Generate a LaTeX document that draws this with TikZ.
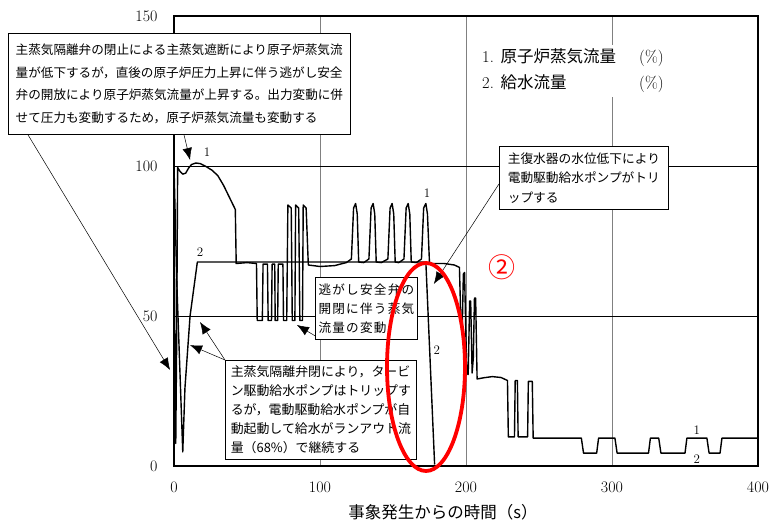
\documentclass[tikz,border=0pt]{standalone}
\usepackage{fontspec}
\newfontfamily\jp{Noto Sans CJK JP}
\newfontfamily\jpwide[LetterSpace=10]{Noto Sans CJK JP}
\usetikzlibrary{shapes,arrows.meta,positioning,calc}

\begin{document}
\begin{tikzpicture}[x=1pt, y=1pt, >={Latex[length=12pt,width=9.5pt]},
    curve/.style={line width=1.4pt, line join=round},
    note/.style={draw, fill=white, line width=0.8pt, align=left, inner sep=0pt, anchor=north west},
    pointer/.style={->, line width=0.5pt},
    tick/.style={font=\fontsize{16}{16}\selectfont},
    cnum/.style={font=\fontsize{13}{13}\selectfont, inner sep=1pt}]

    \useasboundingbox (0,0) rectangle (772,523);

    \begin{scope}[shift={(174,57)}, x=1.46pt, y=3pt]

        % Grade
        \draw[gray, line width=0.6pt] (100,0) -- (100,150) (200,0) -- (200,150) (300,0) -- (300,150);
        \draw[line width=0.8pt] (0,50) -- (400,50) (0,100) -- (400,100);
        \draw[line width=1.2pt] (0,0) rectangle (400,150);

        % Eixos
        \node[tick, anchor=east] (y150) at (-8.9,150) {150};
        \node[tick, anchor=east] (y100) at (-8.9,100) {100};
        \node[tick, anchor=east] (y50) at (-8.9,50) {50};
        \node[tick, anchor=east] (y0) at (-8.9,0) {0};
        \node[tick] (x0) at (0,-7) {0};
        \node[tick] (x100) at (100,-7) {100};
        \node[tick] (x200) at (200,-7) {200};
        \node[tick] (x300) at (300,-7) {300};
        \node[tick] (x400) at (400,-7) {400};

        % Curva 1
        \draw[curve] (0,100) -- (0.7,30) -- (1.2,7.5) -- (1.8,40) -- (2.5,99.5)
            -- (4,98.3) -- (6,97.3) -- (8,97.6) -- (10,99.3) -- (12,100.5) -- (15,101) -- (18,100.8)
            -- (22,99.8) -- (26,98.6) -- (30,96.8) -- (34,93.5) -- (38,89.5) -- (42,85.5)
            -- (42.6,67.5) -- (50,67.8) -- (56.5,67.5)
            -- (57,48.5) -- (60.5,48.5) -- (61,67.3) -- (64,67.3)
            -- (64.5,48.5) -- (66.8,48.5) -- (67.2,67.3) -- (69,67.3)
            -- (69.3,48.5) -- (71,48.5) -- (71.4,67.3) -- (74.6,67.3)
            -- (75,48.5) -- (77.2,48.5) -- (78,87) -- (80.3,86) -- (81,48.5) -- (82.8,48.5)
            -- (83.3,87) -- (85.4,86) -- (86.2,48.5) -- (88,48.5) -- (88.5,87) -- (90.5,86) -- (92,67)
            -- (100,66.5) -- (110,66.8) -- (118,67.8) -- (121.5,69)
            -- (123,86) -- (124.4,87.5) -- (125.5,84) -- (126.5,68) -- (130,67.8) -- (133.5,69)
            -- (135,86) -- (136.4,87.5) -- (137.5,84) -- (138.5,68) -- (142,67.8) -- (146.5,69)
            -- (148,86) -- (149.4,87.5) -- (150.5,84) -- (151.5,68) -- (154,67.8) -- (157.5,69)
            -- (159,86) -- (160.4,87.5) -- (161.5,84) -- (162.5,68) -- (166,67.8) -- (169.5,69)
            -- (171,86) -- (172.5,87.5) -- (173.6,84) -- (175,67.5)
            -- (185,67.5) -- (192,67) -- (195.5,66.2)
            -- (196.5,48) -- (197.5,47.5) -- (198.2,64) -- (199,64.5) -- (200.5,31) -- (201.5,30.5)
            -- (202.5,55) -- (203.2,55) -- (204.2,31) -- (205,36) -- (205.8,56) -- (206.6,56) -- (207.6,29)
            -- (212,29.4) -- (218,29.8) -- (224,29.5) -- (228.4,28.5)
            -- (229,9.7) -- (233.2,9.7) -- (233.7,28.5) -- (235.2,28.5) -- (235.7,9.7)
            -- (242.2,9.7) -- (242.7,28.2) -- (245.4,28.2) -- (246,9.3)
            -- (279,9.3) -- (280.5,4.3) -- (289.5,4.3) -- (290.8,9.3) -- (302,9.3) -- (303.5,4.3)
            -- (325,4.3) -- (326.3,9.3) -- (332,9.3) -- (333.5,4.3) -- (350,4.3) -- (351.3,9.3)
            -- (365,9.3) -- (366.5,4.3) -- (374,4.3) -- (375.3,9.3) -- (400,9.3);

        % Curva 2
        \draw[curve] (0,100) -- (2,60) -- (6,4.7) -- (7.5,26) -- (11,50) -- (16,68)
            -- (60,68) -- (120,68) -- (172.5,68) -- (178.5,0.5);

        % Rotulos das curvas
        \node[cnum] (c1a) at (22.6,104.7) {1};
        \node[cnum] (c2a) at (17.8,71.3) {2};
        \node[cnum] (c1b) at (173.3,91) {1};
        \node[cnum] (c2b) at (180,38.7) {2};
        \node[cnum] (c1c) at (358,12) {1};
        \node[cnum] (c2c) at (358,2.3) {2};

        % Pontas das setas
        \coordinate (tA1) at (-2.7,32);
        \coordinate (tA2) at (11,102);
        \coordinate (tB) at (178,60.7);
        \coordinate (tC) at (84.2,47);
        \coordinate (tD1) at (17.8,48);
        \coordinate (tD2) at (11,40.3);

    \end{scope}

    % Legenda
    \node[fill=white, align=left, inner sep=4pt, anchor=west, font=\fontsize{16.5}{26}\selectfont] (legend) at (478,452)
        {\makebox[157pt][l]{1. {\jp 原子炉蒸気流量}}(\%)\\ \makebox[157pt][l]{2. {\jp 給水流量}}(\%)};

    % Caixas de texto
    \node[note, minimum width=342, minimum height=101, font=\jp\fontsize{12.6}{22.5}\selectfont] (boxA) at (8,490)
        {主蒸気隔離弁の閉止による主蒸気遮断により原子炉蒸気流\\量が低下するが，直後の原子炉圧力上昇に伴う逃がし安全\\弁の開放により原子炉蒸気流量が上昇する。出力変動に併\\せて圧力も変動するため，原子炉蒸気流量も変動する};
    \node[note, minimum width=169, minimum height=63, font=\jp\fontsize{12.7}{19.3}\selectfont] (boxB) at (499,377)
        {主復水器の水位低下により\\電動駆動給水ポンプがトリ\\ップする};
    \node[note, minimum width=102, minimum height=62, font=\jpwide\fontsize{12.6}{19}\selectfont] (boxC) at (315,246)
        {逃がし安全弁の\\開閉に伴う蒸気\\流量の変動};
    \node[note, minimum width=191, minimum height=99, font=\jp\fontsize{12.9}{19}\selectfont] (boxD) at (225,163)
        {主蒸気隔離弁閉により，タービ\\ン駆動給水ポンプはトリップす\\るが，電動駆動給水ポンプが自\\動起動して給水がランアウト流\\量（68\%）で継続する};

    % Setas
    \draw[pointer] ([xshift=20pt]boxA.south west) -- (tA1);
    \draw[pointer] ([xshift=176pt]boxA.south west) -- (tA2);
    \draw[pointer] ([yshift=-6pt]boxB.west) -- (tB);
    \draw[pointer] ([yshift=4pt]boxC.south west) -- (tC);
    \draw[pointer] (boxD.north west) -- (tD1);
    \draw[pointer] (boxD.north west) -- (tD2);

    % Destaque
    \draw[red, line width=3.8pt] (426,156) ellipse [x radius=39, y radius=104];
    \node[red, font=\jp\fontsize{27}{27}\selectfont] (mark) at (502,256) {②};

    % Titulo do eixo
    \node[font=\jp\fontsize{16.5}{16.5}\selectfont] (xlabel) at (443,11) {事象発生からの時間（s）};

\end{tikzpicture}
\end{document}
